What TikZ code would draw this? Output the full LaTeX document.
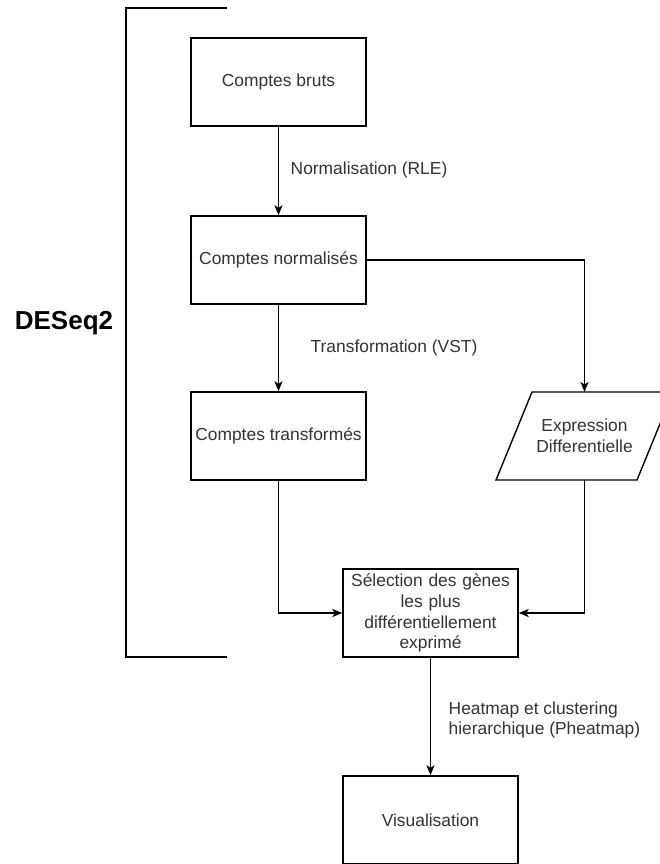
\documentclass[tikz,border=0pt]{standalone}
\usepackage{fontspec}
\setmainfont{Liberation Sans}
\usetikzlibrary{arrows.meta}
\definecolor{txt}{HTML}{333333}
\begin{document}
\begin{tikzpicture}[x=1pt,y=-1pt,
  line width=1.4pt,
  every node/.style={font=\fontsize{17.4}{20.9}\selectfont, text=txt},
  box/.style={draw=black, minimum width=175pt, minimum height=88pt, inner sep=2pt, align=center},
  lbl/.style={anchor=west, align=left, inner sep=0pt},
  arr/.style={-{Stealth[length=10pt,width=8pt,inset=2.5pt]}}
]
\useasboundingbox (0,0) rectangle (660,864);
% bracket
\coordinate (bt) at (227,8);
\coordinate (bb) at (227,657);
\draw (bt) -- (126,8) -- (126,657) -- (bb);
\node[font=\bfseries\fontsize{26}{30}\selectfont, text=black] (des) at (64,323) {DESeq2};

\node[box] (b1) at (278.5,82) {Comptes bruts};
\node[box] (b2) at (278.5,260) {Comptes normalisés};
\node[box] (b3) at (278.5,436) {Comptes transformés};
\node[box, text width=168pt] (sel) at (430.5,613) {Sélection des gènes\\les plus\\différentiellement\\exprimé};
\node[box] (vis) at (430.5,820) {Visualisation};

% parallelogram
\draw (532,392) -- (673,392) -- (637,480) -- (496,480) -- cycle;
\node[align=center] (ed) at (584.5,436) {Expression\\Differentielle};
\coordinate (edt) at (584.5,392);
\coordinate (edb) at (584.5,480);

\draw[arr] (b1) -- (b2);
\draw[arr] (b2) -- (b3);
\draw[arr] (b2.east) -| (edt);
\draw[arr] (b3.south) |- (sel.west);
\draw[arr] (edb) |- (sel.east);
\draw[arr] (sel) -- (vis);

\node[lbl] (l1) at (290,170) {Normalisation (RLE)};
\node[lbl] (l2) at (310,348) {Transformation (VST)};
\node[lbl] (l3) at (448,720) {Heatmap et clustering\\hierarchique (Pheatmap)};
\end{tikzpicture}
\end{document}
